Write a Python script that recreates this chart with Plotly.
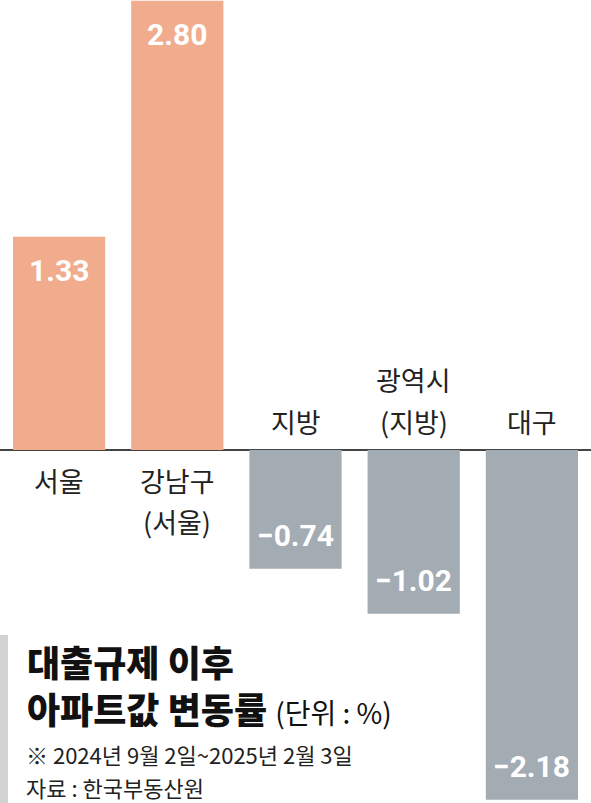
import plotly.graph_objects as go

# 대출규제 이후 아파트값 변동률 (단위 : %)
regions = ["서울", "강남구", "지방", "광역시", "대구"]
label_lines = [["서울"], ["강남구", "(서울)"], ["지방"], ["광역시", "(지방)"], ["대구"]]
changes = [1.33, 2.80, -0.74, -1.02, -2.18]

title_1 = "대출규제 이후"
title_2 = "아파트값 변동률"
unit_text = "(단위 : %)"
period_text = "※ 2024년 9월 2일~2025년 2월 3일"
source_text = "자료 : 한국부동산원"

POS = "#F0AC8D"
NEG = "#A3ABB3"
KFONT = "Noto Sans CJK KR"

colors = [POS if v >= 0 else NEG for v in changes]

fig = go.Figure(go.Bar(
    x=regions,
    y=changes,
    marker=dict(color=colors, line_width=0),
    hoverinfo="skip",
))

annotations = []
for reg, v, lines in zip(regions, changes, label_lines):
    # value label inside the bar end
    txt = f"{v:.2f}".replace("-", "\u2212")
    annotations.append(dict(
        x=reg, y=v, xref="x", yref="y", text=txt, showarrow=False,
        yanchor="middle", yshift=-34 if v >= 0 else 33,
        font=dict(family="Roboto", size=30, color="white", weight="bold"),
    ))
    # category label on the opposite side of the baseline
    n = len(lines)
    for i, line in enumerate(lines):
        if v >= 0:
            shift = -30 - 41 * i
        else:
            shift = 29 + 42 * (n - 1 - i)
        annotations.append(dict(
            x=reg, y=0, xref="x", yref="y", text=line, showarrow=False,
            yanchor="middle", yshift=shift,
            font=dict(family=KFONT, size=27, color="#222222"),
        ))

H = 803
W = 591
left = 25 / W

def py(px):
    return 1 - px / H

annotations += [
    dict(x=left, y=py(661), xref="paper", yref="paper", xanchor="left", yanchor="middle",
         text=title_1, showarrow=False,
         font=dict(family=KFONT, size=36, color="#111111", weight=900)),
    dict(x=left, y=py(708), xref="paper", yref="paper", xanchor="left", yanchor="middle",
         text=f"<span style='font-weight:900'>{title_2}</span> "
              f"<span style='font-size:28px'>{unit_text}</span>",
         showarrow=False,
         font=dict(family=KFONT, size=36, color="#111111")),
    dict(x=left, y=py(754), xref="paper", yref="paper", xanchor="left", yanchor="middle",
         text=period_text, showarrow=False, borderpad=0,
         font=dict(family=KFONT, size=22, color="#222222")),
    dict(x=left, y=py(787), xref="paper", yref="paper", xanchor="left", yanchor="middle",
         text=source_text, showarrow=False, borderpad=0,
         font=dict(family=KFONT, size=22, color="#222222")),
]

fig.update_layout(
    width=W, height=H,
    margin=dict(l=0, r=0, t=0, b=0),
    paper_bgcolor="white", plot_bgcolor="white",
    showlegend=False,
    bargap=0.22,
    xaxis=dict(range=[-0.5, 4.5], showticklabels=False, showgrid=False,
               zeroline=False, showline=False, ticks=""),
    yaxis=dict(range=[-2.2, 2.805], showticklabels=False, showgrid=False,
               zeroline=True, zerolinecolor="#444444", zerolinewidth=1.5,
               showline=False, ticks=""),
    annotations=annotations,
    shapes=[dict(type="rect", xref="paper", yref="paper",
                 x0=0, x1=8 / W, y0=0, y1=py(635),
                 fillcolor="#D2D2D2", line_width=0, layer="above")],
)

# drop the browser's default page margin so the figure fills the window
fig.write_html("out.html", config={"displayModeBar": False},
               post_script="document.body.style.margin='0';document.body.style.overflow='hidden';")
